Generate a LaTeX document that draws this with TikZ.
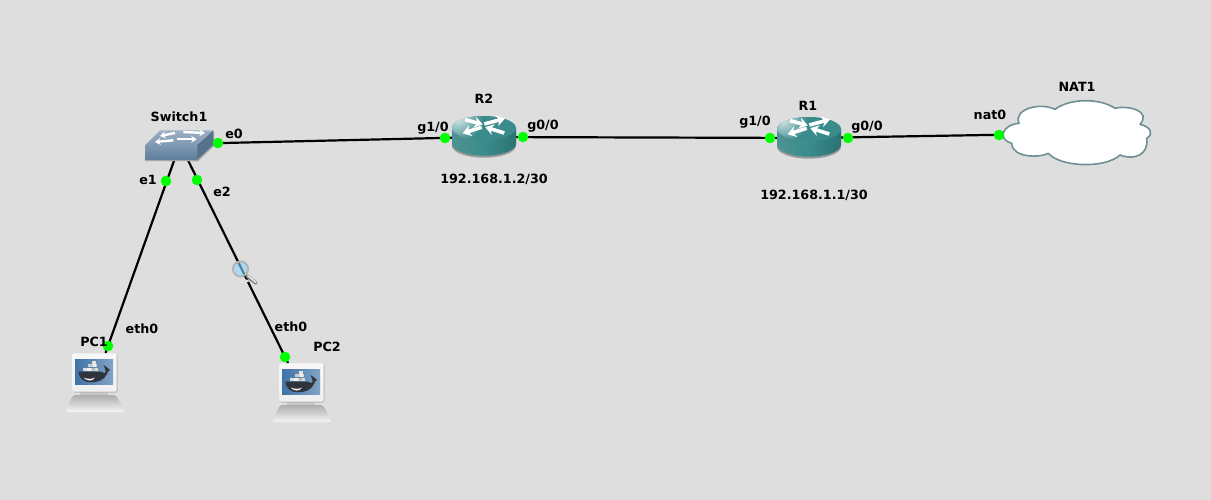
\documentclass[tikz,border=0pt]{standalone}
\usepackage{fontspec}
\setmainfont{DejaVu Sans}
\usetikzlibrary{arrows.meta}
\definecolor{bgc}{HTML}{DEDEDE}
\definecolor{teal1}{HTML}{3A8C8C}
\definecolor{teal2}{HTML}{2F7F7F}
\definecolor{sw1}{HTML}{7E98B2}
\definecolor{sw2}{HTML}{5F7F9C}
\definecolor{sw3}{HTML}{9DB0C4}
\definecolor{cloudline}{HTML}{6F8F94}
\definecolor{whalec}{HTML}{2F343B}
\definecolor{screen}{HTML}{3F72A6}
\tikzset{
  x=1pt,y=-1pt,
  lbl/.style={font=\fontsize{12.7}{14}\selectfont\bfseries,text=black,inner sep=0pt,text height=9.5pt,text depth=2.5pt,anchor=center},
  link/.style={line width=2.2pt,black},
  port/.style={circle,fill=green,draw=none,minimum size=10.6pt,inner sep=0pt},
  dev/.style={inner sep=0pt,minimum size=2pt,draw=none},
  pcicon/.pic={
    % base
    \shade[top color=black!32,bottom color=white!96!black,rounded corners=2pt] (-22,10) -- (21,10) -- (30,27) -- (-30,27) -- cycle;
    \fill[black!22] (-15,6) rectangle (13,10);
    % monitor
    \fill[black!28,rounded corners=2pt] (-22,-31) rectangle (22.5,7.5);
    \shade[top color=white!97!black,bottom color=black!6,rounded corners=2pt] (-22.7,-31.7) rectangle (21.7,6.7);
    % screen
    \fill[black!40] (-20.3,-26) rectangle (18.3,-0.7);
    \shade[left color=screen,right color=screen!65!white] (-20,-25.7) rectangle (18,-1);
    % whale
    \fill[whalec] (-16.7,-13.3) -- (6,-13.3) .. controls (8,-13.3) and (8.5,-11.5) .. (10,-12)
      .. controls (11.5,-13) and (10,-17) .. (8.3,-20) .. controls (11,-18.5) and (13,-17) .. (15,-15)
      .. controls (13,-14) and (12.5,-13) .. (12,-11) .. controls (9,-4.5) and (2,-2.7) .. (-4,-2.7)
      .. controls (-12,-2.7) and (-16,-7) .. (-16.7,-13.3) -- cycle;
    \fill[white!95!black] (-11.5,-7.5) .. controls (-7,-5.5) and (-2,-6) .. (0,-7.5) .. controls (-2,-3.5) and (-8,-3.3) .. (-11.5,-7.5) -- cycle;
    \fill[white!72!gray] (-11.7,-17.5) rectangle (3.3,-13.6);
    \fill[white!60!gray] (-7,-21) rectangle (1.5,-17.7);
    \fill[white!78!gray] (-3,-24) rectangle (1,-21.2);
    \fill[white!88!gray] (-8.5,-17.3) rectangle (-4.5,-13.8);
    \fill[white!45!gray] (-3,-17.3) rectangle (0,-13.8);
    \fill[white!88!gray] (-2,-20.8) rectangle (1.2,-17.9);
  },
  routericon/.pic={
    \fill[black!40] (-32,-8) -- (-32,8.7) arc[start angle=180,end angle=0,x radius=32,y radius=12] -- (32,-8) -- cycle;
    \shade[left color=teal2!85!white,right color=teal2!90!black,middle color=teal1] (-32,-9) -- (-32,6.7) arc[start angle=180,end angle=0,x radius=32,y radius=12] -- (32,-9) -- cycle;
    \fill[teal1] (0,-9) ellipse[x radius=32,y radius=12];
    \begin{scope}
      \clip (0,-9) ellipse[x radius=32,y radius=12];
      \shade[inner color=white!80!teal1,outer color=teal1] (-26,-19) circle[radius=24];
    \end{scope}
    \begin{scope}[white,line width=3.6pt,-{Stealth[length=8.5pt,width=11pt]}]
      \draw (-19,-17.3) -- (-1.2,-12.6);
      \draw (0.3,-13) -- (21,-18.5);
      \draw (-2.3,-9.7) -- (-21.5,-3.7);
      \draw (20.3,-4) -- (1.2,-9.9);
    \end{scope}
  },
  switchicon/.pic={
    \fill[black!35] (-35,4) -- (17.3,4) -- (34,-12) -- (34,2) -- (18,17.3) -- (-35,17) -- cycle;
    \shade[top color=sw3,bottom color=sw1] (-35,1.3) -- (-20,-13.7) -- (33.3,-13.7) -- (17.3,1.3) -- cycle;
    \shade[top color=sw1,bottom color=sw2] (-35,1.3) -- (17.3,1.3) -- (17.3,15.7) -- (-35,15.7) -- cycle;
    \fill[sw2!90!black] (17.3,1.3) -- (33.3,-13.7) -- (33.3,0.7) -- (17.3,15.7) -- cycle;
    \begin{scope}[line width=2.4pt,white,-{Stealth[length=5.5pt,width=7pt]}]
      \draw (-5,-11) -- (-20,-8);
      \draw (3.3,-12) -- (25,-11);
      \draw (-6.7,-3.7) -- (-25,-2);
      \draw (-3.3,-4.7) -- (16.7,-4.7);
    \end{scope}
  },
}
\begin{document}
\begin{tikzpicture}
\useasboundingbox (0,0) rectangle (1211,500);
\fill[bgc] (0,0) rectangle (1211,500);
% device anchors
\node[dev] (sw) at (180,144) {};
\node[dev] (r2) at (484,137) {};
\node[dev] (r1) at (809,138) {};
\node[dev] (nat) at (1076,133.5) {};
\coordinate (pc1in) at (105.5,353);
\coordinate (pc2in) at (288,363);
% links
\draw[link] (sw) -- (r2);
\draw[link] (r2) -- (r1);
\draw[link] (r1) -- (nat);
\draw[link] (sw) -- (pc1in);
\draw[link] (sw) -- (pc2in);
% icons
\pic at (180,144) {switchicon};
\pic at (484,137) {routericon};
\pic at (809,138) {routericon};
\pic at (95,385) {pcicon};
\pic at (302,395) {pcicon};
% cloud
\draw[cloudline,fill=white,line width=1.6pt,line join=round]
 (1019,123.3) .. controls (1013,109) and (1040,102) .. (1055,109.3)
 .. controls (1070,98) and (1100,98) .. (1115,108.3)
 .. controls (1128,105) and (1152,111) .. (1140,124.3)
 .. controls (1151,127) and (1154,134) .. (1146.7,138.3)
 .. controls (1149,154) and (1135,161) .. (1120,155)
 .. controls (1105,169) and (1060,167) .. (1048.3,153.3)
 .. controls (1040,158) and (1012,158) .. (1011.7,143.3)
 .. controls (998,140) and (1001,125) .. (1019,123.3) -- cycle;
% magnifier
\fill[black!12] (241,281) ellipse[x radius=8,y radius=2];
\draw[line width=3.4pt,black!55,line cap=round] (247,276) -- (256,283);
\draw[line width=1.6pt,white!85!gray,line cap=round] (248,276) -- (256,282.5);
\fill[blue!35!cyan!45!white,opacity=.6] (240.5,269) circle[radius=7];
\draw[line width=1.8pt,black!30] (240.5,269) circle[radius=7.6];
% ports
\node[port] (pe0) at (218,143) {};
\node[port] (pe1) at (166,181) {};
\node[port] (pe2) at (197,180) {};
\node[port] (pr2a) at (445,138) {};
\node[port] (pr2b) at (523,137) {};
\node[port] (pr1a) at (770,138) {};
\node[port] (pr1b) at (848,138) {};
\node[port] (pnat) at (999,135) {};
\node[port] (ppc1) at (108,346) {};
\node[port] (ppc2) at (285,357) {};
% labels
\node[lbl] (lsw) at (179,118) {Switch1};
\node[lbl] (le0) at (234,135) {e0};
\node[lbl] (le1) at (148,181) {e1};
\node[lbl] (le2) at (222,193) {e2};
\node[lbl] (lr2a) at (433,128) {g1/0};
\node[lbl] (lr2b) at (543,126) {g0/0};
\node[lbl] (lr2) at (484,100) {R2};
\node[lbl] (lip2) at (494,180) {192.168.1.2/30};
\node[lbl] (lr1a) at (755,122) {g1/0};
\node[lbl] (lr1b) at (867,127) {g0/0};
\node[lbl] (lr1) at (808,107) {R1};
\node[lbl] (lip1) at (814,196) {192.168.1.1/30};
\node[lbl] (lnat0) at (990,116) {nat0};
\node[lbl] (lnat) at (1077,88) {NAT1};
\node[lbl] (leth1) at (142,330) {eth0};
\node[lbl] (lpc1) at (94,343) {PC1};
\node[lbl] (leth2) at (291,328) {eth0};
\node[lbl] (lpc2) at (327,348) {PC2};
\end{tikzpicture}
\end{document}
